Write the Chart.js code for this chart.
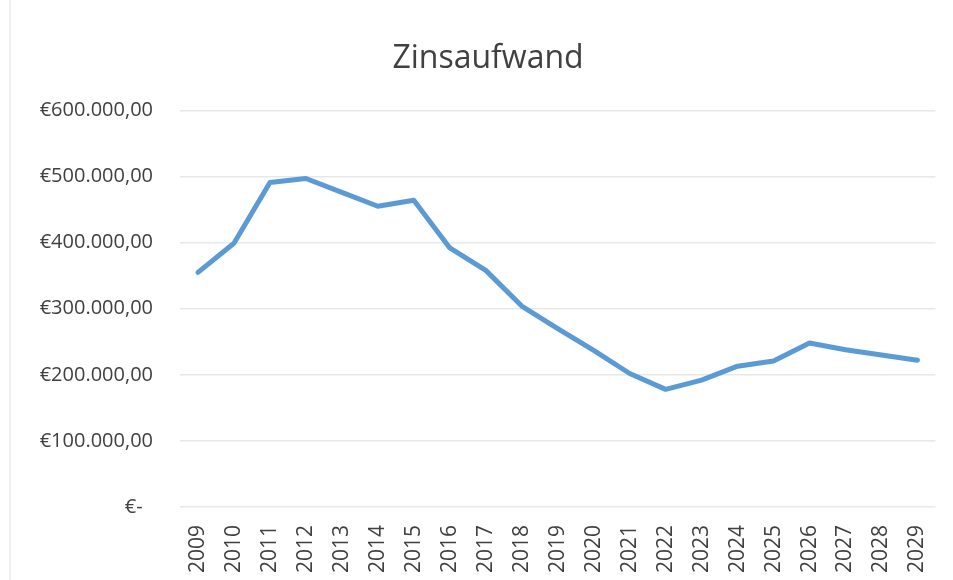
<!DOCTYPE html>
<html>
<head>
<meta charset="utf-8">
<script src="https://cdn.jsdelivr.net/npm/chart.js@4.4.1/dist/chart.umd.min.js"></script>
<style>
  html, body { margin: 0; padding: 0; background: #fff; }
  #wrap { position: relative; width: 953px; height: 580px; }
  #edge { position: absolute; left: 9px; top: 0; width: 2px; height: 580px; background: #efefef; }
</style>
</head>
<body>
<div id="wrap">
  <div id="edge"></div>
  <canvas id="chart" width="953" height="580"></canvas>
</div>
<script>
const years = ['2009', '2010', '2011', '2012', '2013', '2014', '2015', '2016', '2017', '2018', '2019',
               '2020', '2021', '2022', '2023', '2024', '2025', '2026', '2027', '2028', '2029'];
const zinsaufwand = [355000, 399000, 491000, 497000, 476000, 455000, 464000, 392000, 358000, 304000, 270000,
                     237000, 202000, 178000, 192000, 213000, 221000, 248000, 238000, 230000, 222000];
const yTicks = [0, 100000, 200000, 300000, 400000, 500000, 600000];

function euro(v) {
    if (v === 0) return '€-  ';
    const int = Math.round(v).toString().replace(/\B(?=(\d{3})+(?!\d))/g, '.');
    return '€' + int + ',00';
}

const ctx = document.getElementById('chart').getContext('2d');
new Chart(ctx, {
    type: 'line',
    data: {
        labels: years,
        datasets: [{
            label: 'Zinsaufwand',
            data: zinsaufwand,
            borderColor: '#5b9bd5',
            borderWidth: 5,
            pointRadius: 0,
            tension: 0,
            borderJoinStyle: 'round',
            borderCapStyle: 'round'
        }]
    },
    options: {
        responsive: false,
        animation: false,
        layout: { padding: { left: 38, right: 15, top: 0, bottom: 0 } },
        plugins: {
            legend: { display: false },
            tooltip: { enabled: false },
            title: {
                display: true,
                text: 'Zinsaufwand',
                color: '#404040',
                font: { family: 'Open Sans', size: 32, weight: 'normal' },
                padding: { top: 40, bottom: 32 }
            }
        },
        scales: {
            x: {
                offset: true,
                grid: { display: false },
                border: { display: false },
                ticks: {
                    color: '#404040',
                    font: { family: 'Open Sans', size: 21 },
                    minRotation: 90,
                    maxRotation: 90,
                    padding: 10,
                    autoSkip: false
                },
                afterFit: (s) => { s.height = 73; }
            },
            y: {
                min: 0,
                max: 600000,
                afterBuildTicks: (s) => { s.ticks = yTicks.map(v => ({ value: v })); },
                grid: { color: '#e8e8e8', lineWidth: 1.5, drawTicks: false },
                border: { display: false },
                ticks: {
                    color: '#404040',
                    font: { family: 'Open Sans', size: 20 },
                    padding: 27,
                    callback: (v) => euro(v)
                },
                afterFit: (s) => { s.width = 142; }
            }
        }
    }
});
</script>
</body>
</html>
